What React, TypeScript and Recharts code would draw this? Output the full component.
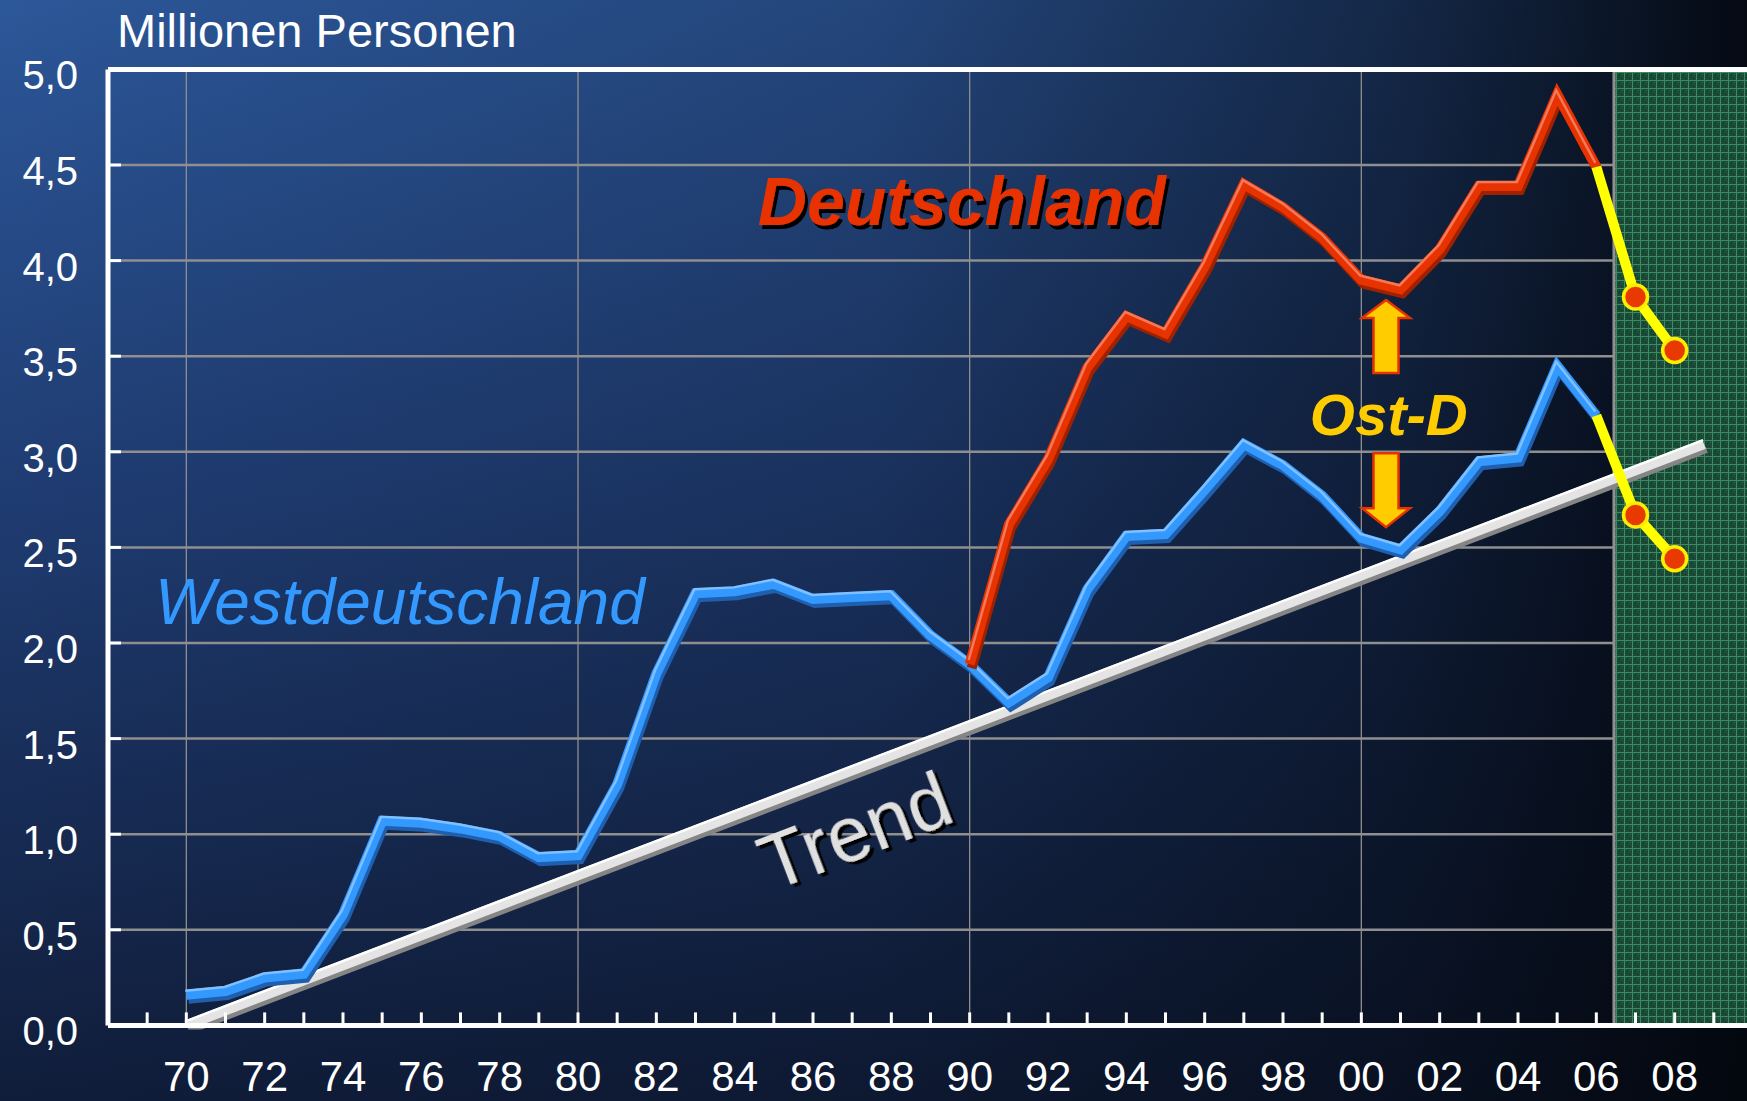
import {
  CartesianGrid,
  Line,
  LineChart,
  ReferenceArea,
  ReferenceDot,
  ReferenceLine,
  XAxis,
  YAxis,
} from 'recharts';

const FONT = "'Liberation Sans', Arial, sans-serif";

// Westdeutschland 1970-2006
const westYears = [
  1970, 1971, 1972, 1973, 1974, 1975, 1976, 1977, 1978, 1979,
  1980, 1981, 1982, 1983, 1984, 1985, 1986, 1987, 1988, 1989,
  1990, 1991, 1992, 1993, 1994, 1995, 1996, 1997, 1998, 1999,
  2000, 2001, 2002, 2003, 2004, 2005, 2006,
];
const westValues = [
  0.16, 0.18, 0.25, 0.27, 0.58, 1.07, 1.06, 1.03, 0.99, 0.88,
  0.89, 1.26, 1.84, 2.26, 2.27, 2.31, 2.23, 2.24, 2.25, 2.04,
  1.89, 1.69, 1.82, 2.28, 2.56, 2.57, 2.80, 3.04, 2.93, 2.77,
  2.55, 2.49, 2.69, 2.95, 2.97, 3.45, 3.19,
];

// Deutschland 1990-2006
const germanyYears = [
  1990, 1991, 1992, 1993, 1994, 1995, 1996, 1997, 1998,
  1999, 2000, 2001, 2002, 2003, 2004, 2005, 2006,
];
const germanyValues = [
  1.89, 2.62, 2.96, 3.44, 3.71, 3.62, 3.97, 4.40, 4.28,
  4.12, 3.90, 3.85, 4.06, 4.39, 4.39, 4.87, 4.49,
];

// Prognose
const forecastYears = [2006, 2007, 2008];
const germanyForecast = [4.49, 3.81, 3.53];
const westForecast = [3.19, 2.67, 2.44];

// Trend
const trendYears = [1970, 2008.75];
const trendValues = [0, 3.04];

const tickYears = [
  1969, 1970, 1971, 1972, 1973, 1974, 1975, 1976, 1977, 1978, 1979,
  1980, 1981, 1982, 1983, 1984, 1985, 1986, 1987, 1988, 1989,
  1990, 1991, 1992, 1993, 1994, 1995, 1996, 1997, 1998, 1999,
  2000, 2001, 2002, 2003, 2004, 2005, 2006, 2007, 2008, 2009,
];
const labelYears = [
  1970, 1972, 1974, 1976, 1978, 1980, 1982, 1984, 1986, 1988,
  1990, 1992, 1994, 1996, 1998, 2000, 2002, 2004, 2006, 2008,
];
const yTicks = [0, 0.5, 1, 1.5, 2, 2.5, 3, 3.5, 4, 4.5, 5];
const decadeYears = [1970, 1980, 1990, 2000];
const forecastStart = 2006.45;

const toRows = (xs: number[], ys: number[]) => xs.map((year, i) => ({ year, value: ys[i] }));

const westData = toRows(westYears, westValues);
const germanyData = toRows(germanyYears, germanyValues);
const westForecastData = toRows(forecastYears, westForecast);
const germanyForecastData = toRows(forecastYears, germanyForecast);
const trendData = toRows(trendYears, trendValues);

function XTick(props: any) {
  const { x, y, payload } = props;
  const year = payload.value as number;
  const label = labelYears.includes(year) ? String(year).slice(2) : null;
  return (
    <g>
      <line x1={x} x2={x} y1={y} y2={y - 13} stroke="#fff" strokeWidth={3} />
      {label && (
        <text x={x} y={y + 66} textAnchor="middle" fill="#fff" fontSize={42} fontFamily={FONT}>
          {label}
        </text>
      )}
    </g>
  );
}

function YTick(props: any) {
  const { x, y, payload } = props;
  return (
    <g>
      <line x1={x} x2={x + 13} y1={y} y2={y} stroke="#fff" strokeWidth={3} />
      <text x={x - 30} y={y + 20} textAnchor="end" fill="#fff" fontSize={40} fontFamily={FONT}>
        {(payload.value as number).toFixed(1).replace('.', ',')}
      </text>
    </g>
  );
}

// 3D-looking line: dark shadow, main stroke, light edge
function line3d(id: string, data: any[], main: string, shadow: string, light: string, w = 10) {
  return [
    <Line key={id + '-s'} data={data} dataKey="value" type="linear" stroke={shadow} strokeWidth={w}
      dot={false} activeDot={false} isAnimationActive={false} transform="translate(2,4)" strokeLinejoin="miter" />,
    <Line key={id + '-m'} data={data} dataKey="value" type="linear" stroke={main} strokeWidth={w}
      dot={false} activeDot={false} isAnimationActive={false} strokeLinejoin="miter" />,
    <Line key={id + '-l'} data={data} dataKey="value" type="linear" stroke={light} strokeWidth={2.5}
      dot={false} activeDot={false} isAnimationActive={false} transform="translate(-1,-4)" strokeLinejoin="miter" />,
  ];
}

const forecastDot = (props: any) => {
  const { cx, cy, index } = props;
  if (index === 0) return <g key={'fd' + index} />;
  return <circle key={'fd' + index} cx={cx} cy={cy} r={12} fill="#e83a00" stroke="#ffee00" strokeWidth={3.5} />;
};

const textShape = (text: string, opts: any) => (p: any) => (
  <text x={p.cx} y={p.cy} fill={opts.fill} filter={opts.shadow ? 'url(#txtShadow)' : undefined} {...opts.attrs}>
    {text}
  </text>
);

const upArrow = (p: any) => (
  <polygon
    points={[[0, 0], [24, 18], [12.5, 18], [12.5, 73], [-12.5, 73], [-12.5, 18], [-24, 18]]
      .map(([dx, dy]) => `${p.cx + dx},${p.cy + dy}`).join(' ')}
    fill="#ffcc00" stroke="#e83300" strokeWidth={2.5}
  />
);

const downArrow = (p: any) => (
  <polygon
    points={[[0, 0], [24, -19], [12.5, -19], [12.5, -74], [-12.5, -74], [-12.5, -19], [-24, -19]]
      .map(([dx, dy]) => `${p.cx + dx},${p.cy + dy}`).join(' ')}
    fill="#ffcc00" stroke="#e83300" strokeWidth={2.5}
  />
);

export default function App() {
  return (
    <div
      style={{
        position: 'absolute',
        left: 0,
        top: 0,
        width: 1747,
        height: 1101,
        overflow: 'hidden',
        background:
          'linear-gradient(90deg, rgba(4,8,16,0) 0%, rgba(4,8,16,0.22) 50%, rgba(4,8,16,0.6) 80%, rgba(3,6,12,0.95) 100%), linear-gradient(180deg, #2c5799 0%, #1f3c72 45%, #101d3a 100%)',
      }}
    >
      <div
        style={{
          position: 'absolute',
          left: 117,
          top: 7,
          fontFamily: FONT,
          fontSize: 47,
          lineHeight: '47px',
          color: '#fff',
        }}
      >
        Millionen Personen
      </div>
      <LineChart width={1760} height={1101} margin={{ top: 69.4, right: 7, bottom: 0, left: 0 }}>
        <defs>
          <pattern id="forecastGrid" width="8" height="8" patternUnits="userSpaceOnUse">
            <rect width="8" height="8" fill="#1c4c37" />
            <path d="M0 0.5H8M0.5 0V8" stroke="#388c63" strokeWidth="1" />
            <rect x="3" y="3" width="1" height="1" fill="#0e2c1e" />
            <rect x="5" y="6" width="1" height="1" fill="#0e2c1e" />
            <rect x="2" y="5" width="1" height="1" fill="#133a28" />
            <rect x="6" y="2" width="1" height="1" fill="#2a6a4b" />
          </pattern>
          <filter id="txtShadow" x="-10%" y="-20%" width="130%" height="150%">
            <feDropShadow dx="3" dy="4" stdDeviation="0.6" floodColor="#000" floodOpacity="1" />
          </filter>
        </defs>
        <XAxis
          type="number"
          dataKey="year"
          domain={[1968, 2010]}
          allowDataOverflow
          ticks={tickYears}
          interval={0}
          height={75.6}
          tickSize={0}
          tickMargin={0}
          tickLine={false}
          axisLine={{ stroke: '#fff', strokeWidth: 5 }}
          tick={<XTick />}
        />
        <YAxis
          type="number"
          domain={[0, 5]}
          allowDataOverflow
          ticks={yTicks}
          interval={0}
          width={108}
          tickSize={0}
          tickMargin={0}
          tickLine={false}
          axisLine={{ stroke: '#fff', strokeWidth: 5 }}
          tick={<YTick />}
        />
        <ReferenceArea x1={forecastStart} x2={2010} y1={0} y2={5} fill="url(#forecastGrid)" fillOpacity={1} stroke="none" />
        <CartesianGrid vertical={false} stroke="#8f8f8f" strokeWidth={2.5} />
        {decadeYears.map((yr) => (
          <ReferenceLine key={yr} x={yr} stroke="#8f8f8f" strokeWidth={1.3} />
        ))}
        <ReferenceLine x={forecastStart} stroke="#8f8f8f" strokeWidth={3} />
        <ReferenceLine y={5} stroke="#fff" strokeWidth={5} />

        {line3d('trend', trendData, '#e4e4e4', '#858585', '#ffffff', 10)}
        {line3d('west', westData, '#3399ff', '#1f5fae', '#80c0ff')}
        {line3d('germany', germanyData, '#e83300', '#9e2200', '#f2795a')}

        <Line data={westForecastData} dataKey="value" type="linear" stroke="#ffff00" strokeWidth={10}
          dot={forecastDot} activeDot={false} isAnimationActive={false} />
        <Line data={germanyForecastData} dataKey="value" type="linear" stroke="#ffff00" strokeWidth={10}
          dot={forecastDot} activeDot={false} isAnimationActive={false} />

        <ReferenceDot x={1989.8} y={4.186} r={0} shape={textShape('Deutschland', {
          fill: '#e83300', shadow: true,
          attrs: { fontFamily: FONT, fontSize: 68, fontWeight: 700, fontStyle: 'italic', textAnchor: 'middle' },
        })} />
        <ReferenceDot x={1969.2} y={2.1} r={0} shape={textShape('Westdeutschland', {
          fill: '#3399ff', shadow: false,
          attrs: { fontFamily: FONT, fontSize: 64, fontStyle: 'italic', textAnchor: 'start' },
        })} />
        <ReferenceDot x={2000.7} y={3.087} r={0} shape={textShape('Ost-D', {
          fill: '#ffcc00', shadow: false,
          attrs: { fontFamily: FONT, fontSize: 58, fontWeight: 700, fontStyle: 'italic', textAnchor: 'middle' },
        })} />
        <ReferenceDot x={1987.1} y={1.0} r={0} shape={(p: any) => (
          <g transform={`rotate(-21 ${p.cx} ${p.cy})`}>
            <text x={p.cx} y={p.cy + 24} fill="#e0e0e0" filter="url(#txtShadow)" fontFamily={FONT} fontSize={77} textAnchor="middle">
              Trend
            </text>
          </g>
        )} />
        <ReferenceDot x={2000.63} y={3.794} r={0} shape={upArrow} />
        <ReferenceDot x={2000.63} y={2.606} r={0} shape={downArrow} />
      </LineChart>
    </div>
  );
}
